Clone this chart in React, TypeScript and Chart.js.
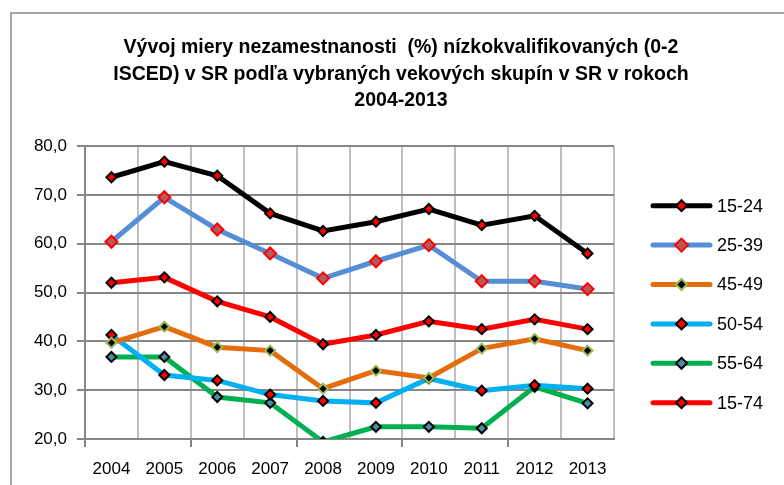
import React, { useEffect, useRef } from "react";
import { Chart, registerables } from "chart.js";

Chart.register(...registerables);

const years = ["2004", "2005", "2006", "2007", "2008", "2009", "2010", "2011", "2012", "2013"];
const s1524 = [73.6, 76.8, 73.9, 66.2, 62.6, 64.5, 67.1, 63.8, 65.7, 58.0];
const s2539 = [60.4, 69.5, 62.9, 58.0, 52.9, 56.4, 59.7, 52.3, 52.3, 50.7];
const s4549 = [39.7, 43.0, 38.8, 38.1, 30.3, 34.0, 32.5, 38.5, 40.5, 38.1];
const s5054 = [41.3, 33.1, 32.0, 29.1, 27.8, 27.4, 32.4, 29.9, 31.0, 30.3];
const s5564 = [36.8, 36.8, 28.6, 27.4, 19.4, 22.5, 22.5, 22.2, 30.7, 27.3];
const s1574 = [52.0, 53.1, 48.2, 45.0, 39.4, 41.3, 44.1, 42.5, 44.5, 42.5];
const titleLines = [
  "Vývoj miery nezamestnanosti  (%) nízkokvalifikovaných (0-2",
  "ISCED) v SR podľa vybraných vekových skupín v SR v rokoch",
  "2004-2013",
];

const FONT = "'Liberation Sans', Arial, sans-serif";

const seriesDefs = [
  { label: "15-24", data: s1524, line: "#000000", fill: "#ff0000", edge: "#000000", r: 5 },
  { label: "25-39", data: s2539, line: "#558ed5", fill: "#b35a5a", edge: "#ff0000", r: 6 },
  { label: "45-49", data: s4549, line: "#e46c0a", fill: "#000000", edge: "#9bbb59", r: 5 },
  { label: "50-54", data: s5054, line: "#00b0f0", fill: "#ff0000", edge: "#000000", r: 5 },
  { label: "55-64", data: s5564, line: "#00b050", fill: "#4a8fa8", edge: "#000000", r: 5 },
  { label: "15-74", data: s1574, line: "#ff0000", fill: "#ff0000", edge: "#000000", r: 5 },
];

const titlePlugin = {
  id: "customTitle",
  afterDraw(chart: any) {
    const ctx = chart.ctx;
    ctx.save();
    ctx.fillStyle = "#000000";
    ctx.font = `bold 19.5px ${FONT}`;
    ctx.textAlign = "center";
    ctx.textBaseline = "middle";
    titleLines.forEach((t, i) => ctx.fillText(t, 401, 48 + i * 26.5));
    ctx.restore();
  },
};

const legendPlugin = {
  id: "customLegend",
  afterDraw(chart: any) {
    const ctx = chart.ctx;
    ctx.save();
    const x0 = 653, x1 = 710, ty = 205.7, dy = 39.4;
    chart.data.datasets.forEach((ds: any, i: number) => {
      const y = ty + i * dy;
      ctx.strokeStyle = ds.borderColor;
      ctx.lineWidth = 5;
      ctx.lineCap = "round";
      ctx.beginPath();
      ctx.moveTo(x0, y);
      ctx.lineTo(x1, y);
      ctx.stroke();
      const cx = (x0 + x1) / 2;
      const r = ds.pointRadius + 0.5;
      ctx.fillStyle = ds.pointBackgroundColor;
      ctx.strokeStyle = ds.pointBorderColor;
      ctx.lineWidth = 2;
      ctx.lineCap = "butt";
      ctx.beginPath();
      ctx.moveTo(cx, y - r);
      ctx.lineTo(cx + r, y);
      ctx.lineTo(cx, y + r);
      ctx.lineTo(cx - r, y);
      ctx.closePath();
      ctx.fill();
      ctx.stroke();
      ctx.fillStyle = "#000000";
      ctx.font = `18px ${FONT}`;
      ctx.textBaseline = "middle";
      ctx.textAlign = "left";
      ctx.fillText(ds.label, 717, y + 1);
    });
    ctx.restore();
  },
};

export default function App() {
  const ref = useRef<HTMLCanvasElement | null>(null);
  useEffect(() => {
    if (!ref.current) return;
    const chart = new Chart(ref.current, {
      type: "line",
      data: {
        labels: years,
        datasets: seriesDefs.map((s) => ({
          label: s.label,
          data: s.data,
          borderColor: s.line,
          borderWidth: 5,
          pointStyle: "rectRot",
          pointRadius: s.r,
          pointBackgroundColor: s.fill,
          pointBorderColor: s.edge,
          pointBorderWidth: 2,
          tension: 0,
        })),
      },
      options: {
        animation: false,
        responsive: false,
        layout: { padding: { left: 0, right: 170, top: 146, bottom: 0 } },
        plugins: {
          legend: { display: false },
          tooltip: { enabled: false },
          title: { display: false },
        },
        scales: {
          x: {
            offset: true,
            grid: {
              offset: true,
              color: "#bfbfbf",
              lineWidth: 2,
              tickLength: 8,
              tickColor: (c: any) => (c.index % 2 === 0 ? "#868686" : "rgba(0,0,0,0)"),
            },
            border: { color: "#868686", width: 2 },
            ticks: { color: "#000000", font: { family: FONT, size: 17 }, padding: 12, maxRotation: 0 },
            afterFit: (s: any) => { s.height = 46; },
          },
          y: {
            min: 20,
            max: 80,
            ticks: {
              stepSize: 10,
              color: "#000000",
              font: { family: FONT, size: 17 },
              padding: 10,
              callback: (v: any) => Number(v).toFixed(1).replace(".", ","),
            },
            grid: { color: "#868686", lineWidth: 2, tickLength: 8, tickColor: "#868686" },
            border: { color: "#868686", width: 2 },
            afterFit: (s: any) => { s.width = 85; },
          },
        },
      },
      plugins: [titlePlugin, legendPlugin],
    } as any);
    return () => chart.destroy();
  }, []);
  return (
    <div style={{ position: "fixed", left: 0, top: 0, width: 784, height: 485, overflow: "hidden", background: "#fff" }}>
      <div style={{ position: "absolute", left: 10, top: 12, width: 800, height: 500, border: "2px solid #a6a6a6" }} />
      <canvas ref={ref} width={784} height={485} style={{ position: "absolute", left: 0, top: 0 }} />
    </div>
  );
}
